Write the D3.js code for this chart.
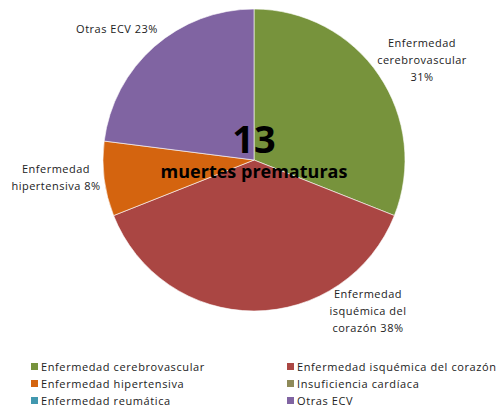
<!DOCTYPE html>
<html>
<head>
<meta charset="utf-8">
<script src="https://cdn.jsdelivr.net/npm/d3@7"></script>
<style>
	body { margin: 0; background: #fff; }
	svg text { font-family: "Open Sans", "Noto Sans", sans-serif; fill: #222; }
</style>
</head>
<body>
<div class="container"></div>
<script>
const categories = [
	"Enfermedad cerebrovascular",
	"Enfermedad isquémica del corazón",
	"Enfermedad hipertensiva",
	"Insuficiencia cardíaca",
	"Enfermedad reumática",
	"Otras ECV"
];
const values = [31, 38, 8, 0, 0, 23];
const colors = ["#77933c", "#aa4643", "#d4640f", "#8e8a59", "#4198af", "#8064a2"];
const sliceLabels = [
	["Enfermedad", "cerebrovascular", "31%"],
	["Enfermedad", "isquémica del", "corazón 38%"],
	["Enfermedad", "hipertensiva 8%"],
	null,
	null,
	["Otras ECV 23%"]
];
const totalLabel = "13";
const subLabel = "muertes prematuras";

const width = 499, height = 410;
const cx = 254, cy = 160, radius = 151;

const svg = d3.select(".container").append("svg")
	.attr("width", width)
	.attr("height", height);

const data = categories.map((c, i) => ({ name: c, value: values[i], color: colors[i], label: sliceLabels[i] }));

const pie = d3.pie().sort(null).value((d) => d.value);
const arc = d3.arc().innerRadius(0).outerRadius(radius);
const arcs = pie(data);

const g = svg.append("g").attr("transform", `translate(${cx},${cy})`);

g.selectAll("path")
	.data(arcs.filter((d) => d.data.value > 0)).enter()
	.append("path")
		.attr("d", arc)
		.style("fill", (d) => d.data.color)
		.style("stroke", "#fff")
		.style("stroke-width", 0.6);

// label positions, relative to the center
const labelPos = [
	{ x: 168, y: -113 },
	{ x: 114, y: 138 },
	{ x: -198, y: 13 },
	null,
	null,
	{ x: -137, y: -127 }
];

const labels = g.selectAll(".slice-label")
	.data(arcs.filter((d) => d.data.label)).enter()
	.append("text")
		.attr("class", "slice-label")
		.attr("text-anchor", "middle")
		.style("font-size", "11px")
		.style("letter-spacing", "0.5px")
		.attr("transform", (d) => {
			const p = labelPos[d.index];
			return `translate(${p.x},${p.y})`;
		});

labels.selectAll("tspan")
	.data((d) => d.data.label).enter()
	.append("tspan")
		.attr("x", 0)
		.attr("dy", (d, i) => i === 0 ? 0 : 17)
		.text((d) => d);

g.append("text")
	.attr("text-anchor", "middle")
	.attr("y", -7)
	.style("font-size", "38px")
	.style("font-weight", "bold")
	.style("fill", "#000")
	.text(totalLabel);

g.append("text")
	.attr("text-anchor", "middle")
	.attr("y", 18)
	.style("font-size", "18px")
	.style("font-weight", "bold")
	.style("fill", "#000")
	.text(subLabel);

// legend
const legendCol = d3.scalePoint().domain([0, 1]).range([31, 287]);
const legendRow = d3.scalePoint().domain([0, 1, 2]).range([367, 401]);

const legend = svg.append("g").attr("class", "legend")
	.selectAll("g")
		.data(data).enter()
	.append("g")
		.attr("transform", (d, i) => `translate(${legendCol(i % 2)},${legendRow(Math.floor(i / 2))})`);

legend.append("rect")
	.attr("y", -4)
	.attr("width", 7)
	.attr("height", 7)
	.style("fill", (d) => d.color);

legend.append("text")
	.attr("x", 10)
	.attr("dy", 4)
	.style("font-size", "11px")
	.style("letter-spacing", "0.6px")
	.text((d) => d.name);
</script>
</body>
</html>
